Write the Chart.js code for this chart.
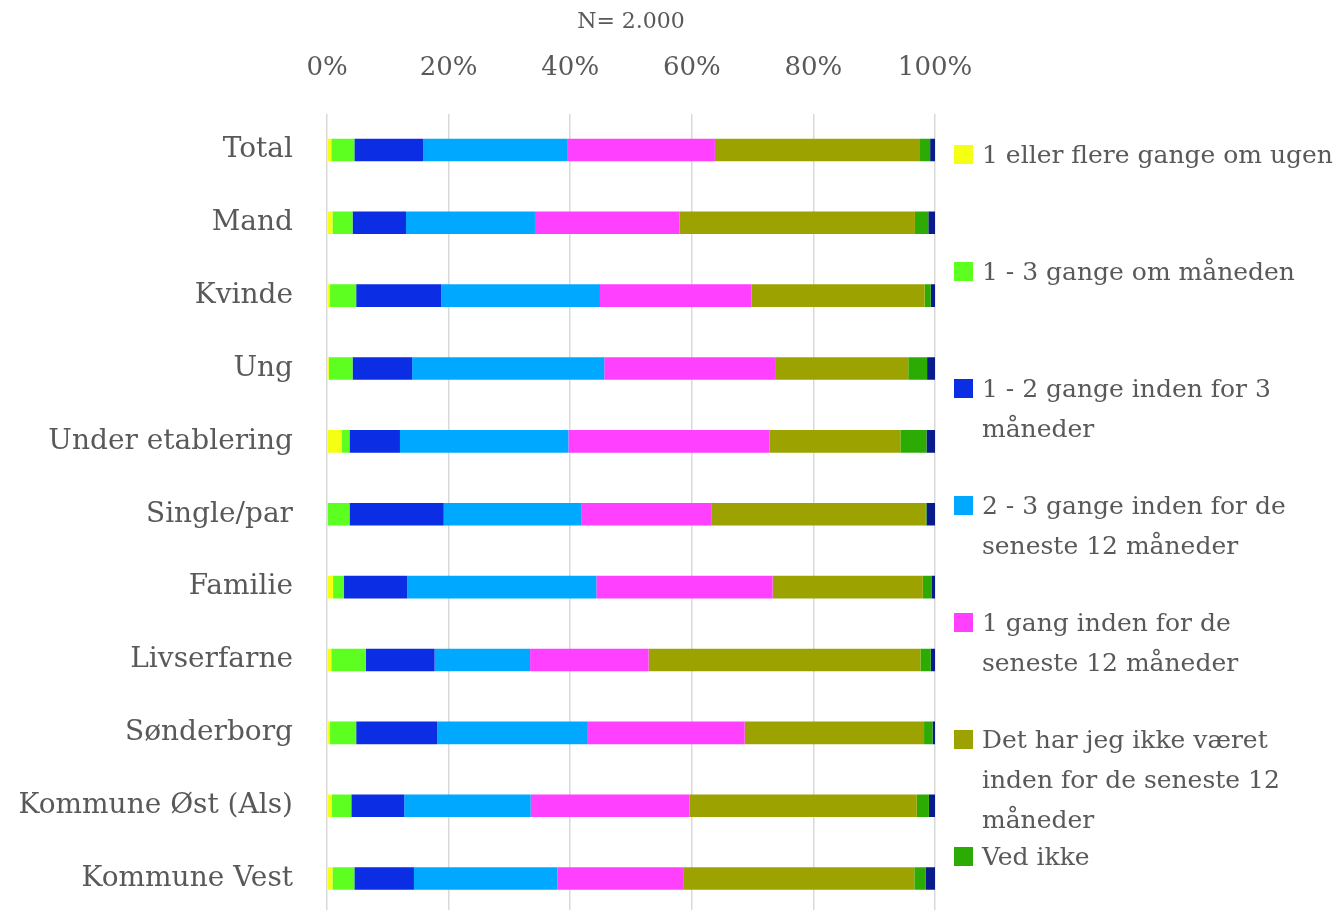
<!DOCTYPE html>
<html>
<head>
<meta charset="utf-8">
<script src="https://cdn.jsdelivr.net/npm/chart.js@4/dist/chart.umd.min.js"></script>
<style>
  html, body { margin: 0; padding: 0; background: #fff; overflow: hidden; }
  #wrap { position: relative; width: 1340px; height: 915px; }
  #legend { position: absolute; left: 954px; top: 135px; font-family: "DejaVu Serif", serif; font-size: 25px; color: #595959; }
  .item { display: flex; align-items: flex-start; height: 117px; }
  .box { width: 19px; height: 19px; margin-top: 10px; margin-right: 9px; flex: none; }
  .txt { line-height: 40px; white-space: nowrap; }
</style>
</head>
<body>
<div id="wrap">
  <canvas id="chart"></canvas>
  <div id="legend"></div>
</div>
<script>
// Data (percent of respondents)
const categories = ['Total', 'Mand', 'Kvinde', 'Ung', 'Under etablering', 'Single/par', 'Familie', 'Livserfarne', 'Sønderborg', 'Kommune Øst (Als)', 'Kommune Vest'];

const seriesNames = [
    ['1 eller flere gange om ugen'],
    ['1 - 3 gange om måneden'],
    ['1 - 2 gange inden for 3', 'måneder'],
    ['2 - 3 gange inden for de', 'seneste 12 måneder'],
    ['1 gang inden for de', 'seneste 12 måneder'],
    ['Det har jeg ikke været', 'inden for de seneste 12', 'måneder'],
    ['Ved ikke'],
    ['Ubesvaret']
];
const seriesColors = ['#f4ff14', '#5cff1f', '#0b2de3', '#00a9ff', '#ff40ff', '#9ca300', '#2dab05', '#0a1c8c'];

const weekly    = [0.7, 0.9, 0.5, 0.3, 2.4, 0.0, 1.0, 0.7, 0.5, 0.8, 0.9];
const monthly   = [3.8, 3.3, 4.3, 3.9, 1.3, 3.7, 1.8, 5.7, 4.3, 3.2, 3.6];
const quarter   = [11.3, 8.8, 14.0, 9.8, 8.3, 15.5, 10.4, 11.3, 13.3, 8.7, 9.8];
const twoThree  = [23.8, 21.2, 26.1, 31.6, 27.7, 22.7, 31.1, 15.7, 24.8, 20.8, 23.6];
const onceYear  = [24.2, 23.8, 24.9, 28.1, 33.1, 21.4, 29.0, 19.5, 25.8, 26.1, 20.8];
const notAtAll  = [33.6, 38.7, 28.5, 21.9, 21.5, 35.1, 24.7, 44.7, 29.5, 37.4, 37.9];
const dontKnow  = [1.8, 2.2, 1.0, 3.1, 4.3, 0.2, 1.5, 1.7, 1.4, 2.0, 1.9];
const noAnswer  = [0.8, 1.1, 0.7, 1.3, 1.4, 1.4, 0.5, 0.7, 0.4, 1.0, 1.5];

const allSeries = [weekly, monthly, quarter, twoThree, onceYear, notAtAll, dontKnow, noAnswer];
const legendCount = 7; // last series has no legend entry

const xTicks = [0, 20, 40, 60, 80, 100];
const titleText = 'N= 2.000';

const textColor = '#595959';
const font = 'DejaVu Serif';

const datasets = allSeries.map((vals, i) => ({
    label: seriesNames[i].join(' '),
    data: vals,
    backgroundColor: seriesColors[i],
    borderWidth: 0,
    barPercentage: 0.31,
    categoryPercentage: 1
}));

// Title centred over the plot area rather than the whole canvas
const plotTitle = {
    id: 'plotTitle',
    afterDraw(chart) {
        const { ctx, chartArea } = chart;
        ctx.save();
        ctx.fillStyle = textColor;
        ctx.font = '22px "' + font + '"';
        ctx.textAlign = 'center';
        ctx.textBaseline = 'middle';
        ctx.fillText(titleText, (chartArea.left + chartArea.right) / 2, 22);
        ctx.restore();
    }
};

const chart = new Chart(document.getElementById('chart'), {
    type: 'bar',
    data: { labels: categories, datasets: datasets },
    plugins: [plotTitle],
    options: {
        indexAxis: 'y',
        responsive: true,
        maintainAspectRatio: false,
        animation: false,
        layout: { padding: { left: 0, right: 405, top: 0, bottom: 0 } },
        plugins: {
            legend: { display: false },
            tooltip: { enabled: false },
            title: { display: false }
        },
        scales: {
            x: {
                position: 'top',
                stacked: true,
                min: 0,
                max: 100,
                afterBuildTicks: (scale) => { scale.ticks = xTicks.map(v => ({ value: v })); },
                afterFit: (scale) => {
                    scale.height = 113.5;
                    scale.paddingLeft = 0;
                    scale.paddingRight = 0;
                },
                ticks: {
                    color: textColor,
                    font: { family: font, size: 26 },
                    padding: 30,
                    callback: (v) => v + '%'
                },
                grid: { color: '#d9d9d9', lineWidth: 1.5, drawTicks: false },
                border: { display: false }
            },
            y: {
                stacked: true,
                afterFit: (scale) => {
                    scale.width = 327;
                    scale.paddingTop = 0;
                    scale.paddingBottom = 0;
                },
                ticks: {
                    color: textColor,
                    font: { family: font, size: 28 },
                    padding: 34
                },
                grid: { display: false, drawTicks: false },
                border: { display: false }
            }
        }
    }
});

// Legend with wrapped lines, built from the dataset names and colours
const legendEl = document.getElementById('legend');
for (let i = 0; i < legendCount; i++) {
    const item = document.createElement('div');
    item.className = 'item';
    const box = document.createElement('div');
    box.className = 'box';
    box.style.background = seriesColors[i];
    const txt = document.createElement('div');
    txt.className = 'txt';
    txt.innerHTML = seriesNames[i].join('<br>');
    item.appendChild(box);
    item.appendChild(txt);
    legendEl.appendChild(item);
}
</script>
</body>
</html>
